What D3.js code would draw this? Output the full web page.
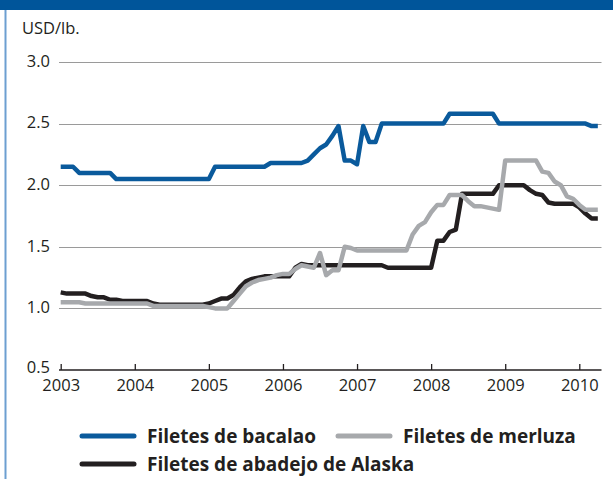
<!DOCTYPE html>
<html>
<head>
<meta charset="utf-8">
<script src="https://cdn.jsdelivr.net/npm/d3@7"></script>
<style>
  html, body { margin: 0; padding: 0; background: #fff; }
  svg { display: block; font-family: "Open Sans", "Noto Sans", sans-serif; }
</style>
</head>
<body>
<svg id="chart" width="613" height="479"></svg>
<script>
// Monthly fillet prices, January 2003 to April 2010 (USD/lb.)
const startYear = 2003;
const bacalao = [
  2.15, 2.15, 2.15, 2.10, 2.10, 2.10, 2.10, 2.10, 2.10, 2.05, 2.05, 2.05,
  2.05, 2.05, 2.05, 2.05, 2.05, 2.05, 2.05, 2.05, 2.05, 2.05, 2.05, 2.05,
  2.05, 2.15, 2.15, 2.15, 2.15, 2.15, 2.15, 2.15, 2.15, 2.15, 2.18, 2.18,
  2.18, 2.18, 2.18, 2.18, 2.20, 2.25, 2.30, 2.33, 2.40, 2.48, 2.20, 2.20,
  2.17, 2.48, 2.35, 2.35, 2.50, 2.50, 2.50, 2.50, 2.50, 2.50, 2.50, 2.50,
  2.50, 2.50, 2.50, 2.58, 2.58, 2.58, 2.58, 2.58, 2.58, 2.58, 2.58, 2.50,
  2.50, 2.50, 2.50, 2.50, 2.50, 2.50, 2.50, 2.50, 2.50, 2.50, 2.50, 2.50,
  2.50, 2.50, 2.48, 2.48
];
const merluza = [
  1.05, 1.05, 1.05, 1.05, 1.04, 1.04, 1.04, 1.04, 1.04, 1.04, 1.04, 1.04,
  1.04, 1.04, 1.04, 1.02, 1.02, 1.02, 1.02, 1.02, 1.02, 1.02, 1.02, 1.02,
  1.01, 1.00, 1.00, 1.00, 1.06, 1.12, 1.18, 1.21, 1.23, 1.24, 1.25, 1.27,
  1.28, 1.28, 1.32, 1.35, 1.34, 1.33, 1.45, 1.27, 1.31, 1.31, 1.50, 1.49,
  1.47, 1.47, 1.47, 1.47, 1.47, 1.47, 1.47, 1.47, 1.47, 1.60, 1.67, 1.70,
  1.78, 1.84, 1.84, 1.92, 1.92, 1.92, 1.87, 1.83, 1.83, 1.82, 1.81, 1.80,
  2.20, 2.20, 2.20, 2.20, 2.20, 2.20, 2.11, 2.10, 2.03, 2.00, 1.91, 1.89,
  1.84, 1.80, 1.80, 1.80
];
const abadejo = [
  1.13, 1.12, 1.12, 1.12, 1.12, 1.10, 1.09, 1.09, 1.07, 1.07, 1.06, 1.06,
  1.06, 1.06, 1.06, 1.04, 1.03, 1.03, 1.03, 1.03, 1.03, 1.03, 1.03, 1.03,
  1.04, 1.06, 1.08, 1.08, 1.11, 1.17, 1.22, 1.24, 1.25, 1.26, 1.26, 1.26,
  1.26, 1.26, 1.33, 1.36, 1.35, 1.35, 1.35, 1.35, 1.35, 1.35, 1.35, 1.35,
  1.35, 1.35, 1.35, 1.35, 1.35, 1.33, 1.33, 1.33, 1.33, 1.33, 1.33, 1.33,
  1.33, 1.55, 1.55, 1.62, 1.64, 1.93, 1.93, 1.93, 1.93, 1.93, 1.93, 2.00,
  2.00, 2.00, 2.00, 2.00, 1.96, 1.93, 1.92, 1.86, 1.85, 1.85, 1.85, 1.85,
  1.82, 1.77, 1.73, 1.73
];
const yTicks = [0.5, 1.0, 1.5, 2.0, 2.5, 3.0];
const xTicks = [2003, 2004, 2005, 2006, 2007, 2008, 2009, 2010];
const seriesNames = ["Filetes de bacalao", "Filetes de merluza", "Filetes de abadejo de Alaska"];
const seriesColors = ["#0a5a9c", "#a7a9ac", "#231f20"];

const svg = d3.select("#chart");

// Frame: dark band on top, thin light-blue rule on the left
svg.append("rect").attr("x", 0).attr("y", 0).attr("width", 613).attr("height", 10).attr("fill", "#00559a");
svg.append("rect").attr("x", 4.5).attr("y", 10).attr("width", 2).attr("height", 469).attr("fill", "#6d9fd1");

const x = d3.scaleLinear().domain([2003, 2010]).range([60.7, 579.3]);
const y = d3.scaleLinear().domain([0.5, 3.0]).range([370, 62]);
const xEnd = 601.5;

// Horizontal gridlines
svg.append("g").selectAll("line")
  .data(yTicks.filter(v => v > 0.5))
  .join("line")
  .attr("x1", 59).attr("x2", xEnd)
  .attr("y1", d => Math.round(y(d)) + 0.5).attr("y2", d => Math.round(y(d)) + 0.5)
  .attr("stroke", "#9a9a9a").attr("stroke-width", 1);

// Y labels (the bottom one sits a little higher, clear of the year labels)
svg.append("g").selectAll("text")
  .data(yTicks)
  .join("text")
  .attr("x", 50).attr("y", d => y(d) - (d === 0.5 ? 3 : 1))
  .attr("dy", "0.35em")
  .attr("text-anchor", "end")
  .attr("font-size", 16.5).attr("fill", "#231f20")
  .text(d => d.toFixed(1));

svg.append("text")
  .attr("x", 22).attr("y", 34)
  .attr("font-size", 16.5).attr("fill", "#231f20")
  .text("USD/lb.");

// X axis with upward ticks
const xAxis = d3.axisBottom(x).tickValues(xTicks).tickFormat(d3.format("d")).tickSize(-6).tickPadding(9);
const gx = svg.append("g").attr("transform", "translate(0,370)").call(xAxis);
gx.select(".domain").remove();
gx.append("line").attr("x1", 59).attr("x2", xEnd).attr("y1", 0).attr("y2", 0)
  .attr("stroke", "#231f20").attr("stroke-width", 1.6);
gx.selectAll(".tick line").attr("stroke", "#231f20").attr("stroke-width", 1.3);
gx.selectAll(".tick text").attr("font-size", 16.5).attr("fill", "#231f20")
  .attr("font-family", "'Open Sans', 'Noto Sans', sans-serif").attr("dy", "0.75em").attr("y", 9);

// Series lines
const line = d3.line()
  .x((d, i) => x(startYear + i / 12))
  .y(d => y(d));

const series = [bacalao, merluza, abadejo];
const drawOrder = [2, 1, 0];
drawOrder.forEach(k => {
  svg.append("path")
    .datum(series[k])
    .attr("d", line)
    .attr("fill", "none")
    .attr("stroke", seriesColors[k])
    .attr("stroke-width", 4.5)
    .attr("stroke-linejoin", "round")
    .attr("stroke-linecap", "butt");
});

// Legend
const legendItems = [
  { name: seriesNames[0], color: seriesColors[0], lx: 82, ly: 436 },
  { name: seriesNames[1], color: seriesColors[1], lx: 338, ly: 436 },
  { name: seriesNames[2], color: seriesColors[2], lx: 82, ly: 464 }
];
const lg = svg.append("g").selectAll("g").data(legendItems).join("g")
  .attr("transform", d => `translate(${d.lx},${d.ly})`);
lg.append("line").attr("x1", 0).attr("x2", 52).attr("y1", 0).attr("y2", 0)
  .attr("stroke", d => d.color).attr("stroke-width", 5).attr("stroke-linecap", "round");
lg.append("text").attr("x", 65).attr("y", 0).attr("dy", "0.35em")
  .attr("font-size", 19).attr("font-weight", "bold").attr("fill", "#231f20")
  .text(d => d.name);
</script>
</body>
</html>
